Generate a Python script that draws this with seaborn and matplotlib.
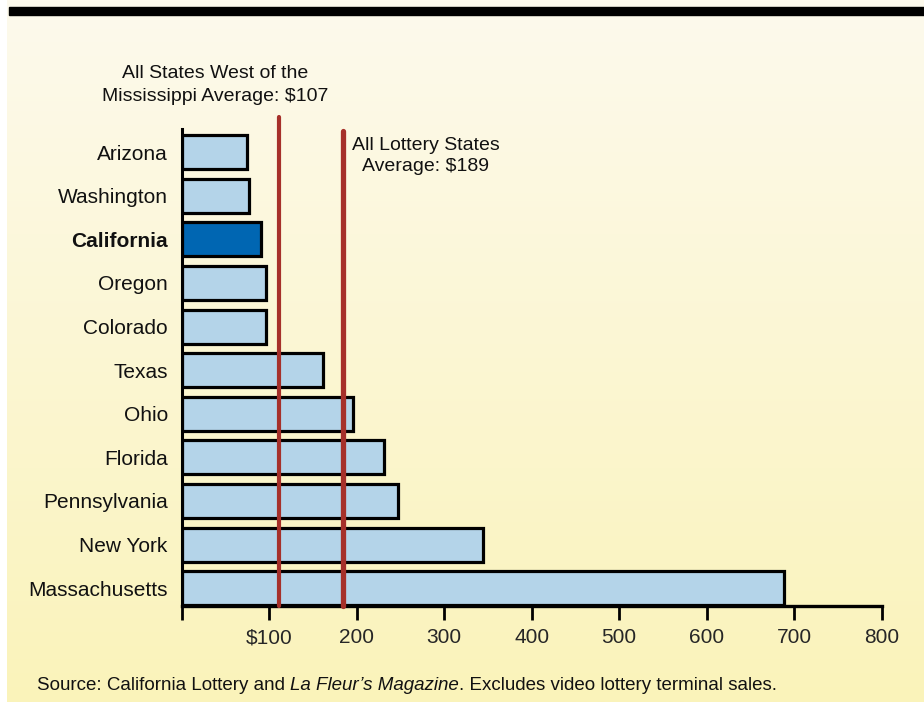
import numpy as np
import pandas as pd
import matplotlib
matplotlib.use('Agg')
import matplotlib.pyplot as plt
import seaborn as sns

# Per-capita lottery sales by state
states = ['Arizona', 'Washington', 'California', 'Oregon', 'Colorado', 'Texas',
          'Ohio', 'Florida', 'Pennsylvania', 'New York', 'Massachusetts']
sales = [75, 77, 91, 96, 96, 161, 196, 231, 247, 345, 689]

# Reference lines (as drawn) and their labelled averages
west_line, west_avg = 111, 107
all_line, all_avg = 184, 189

x_ticks = [0, 100, 200, 300, 400, 500, 600, 700, 800]
x_tick_labels = ['', '$100', '200', '300', '400', '500', '600', '700', '800']

df = pd.DataFrame({'State': states, 'Sales': sales})
df['Group'] = np.where(df['State'] == 'California', 'ca', 'other')

sns.set_theme(style='white')
plt.rcParams['font.family'] = ['Liberation Sans', 'DejaVu Sans']

W, H = 924, 702
fig = plt.figure(figsize=(W / 100, H / 100), dpi=100)
fig.patch.set_facecolor('white')

# Background panel with vertical cream-to-yellow gradient
bg = fig.add_axes([7 / W, 0, 1 - 7 / W, 1], zorder=-2)
top_c = np.array([253, 250, 237]) / 255
bot_c = np.array([250, 243, 186]) / 255
t = np.linspace(0, 1, 256)[:, None]
grad = (top_c * (1 - t) + bot_c * t)[:, None, :]
bg.imshow(grad, aspect='auto', extent=[0, 1, 0, 1])
bg.set_xlim(0, 1)
bg.set_ylim(0, 1)
bg.axis('off')

# Black rule at top
fig.patches.append(plt.Rectangle((9 / W, 1 - 15 / H), 1, 8 / H,
                                 transform=fig.transFigure, color='black', zorder=5))

ax = fig.add_axes([181.7 / W, 1 - 606 / H, (881.5 - 181.7) / W, (606 - 129) / H])
ax.set_facecolor('none')

sns.barplot(data=df, x='Sales', y='State', hue='Group', orient='h',
            palette={'ca': '#0066b2', 'other': '#b4d4e9'}, dodge=False,
            saturation=1, width=0.78, edgecolor='black', linewidth=2.3,
            legend=False, ax=ax, zorder=2)

ax.set_xlim(0, 800)
ax.set_ylim(10.41, -0.53)
ax.set_xlabel('')
ax.set_ylabel('')

# Average lines
ax.axvline(west_line, ymin=0, ymax=1.025, color='#a6302a', linewidth=3, zorder=3,
           clip_on=False)
ax.axvline(all_line, ymin=0, ymax=0.995, color='#a6302a', linewidth=3.8, zorder=3,
           clip_on=False)

fig.text(215 / W, 1 - 85 / H, f'All States West of the\nMississippi Average: ${west_avg}',
         ha='center', va='center', fontsize=14, linespacing=1.4, color='#111111')
fig.text(426 / W, 1 - 156 / H, f'All Lottery States\nAverage: ${all_avg}',
         ha='center', va='center', fontsize=14, linespacing=1.25, color='#111111')

ax.set_xticks(x_ticks)
ax.set_xticklabels(x_tick_labels, fontsize=15)
ax.tick_params(axis='x', direction='out', length=10, width=2, color='black',
               pad=6, bottom=True)
ax.tick_params(axis='y', length=0, pad=10, labelsize=15)
for lbl in ax.get_yticklabels():
    if lbl.get_text() == 'California':
        lbl.set_fontweight('bold')
    lbl.set_color('#111111')

for side in ['top', 'right']:
    ax.spines[side].set_visible(False)
ax.spines['left'].set_linewidth(2.2)
ax.spines['bottom'].set_linewidth(2.4)
ax.spines['left'].set_color('black')
ax.spines['bottom'].set_color('black')

# Source line, with the magazine name in italics
parts = [('Source: California Lottery and ', 'normal'),
         ('La Fleur’s Magazine', 'italic'),
         ('. Excludes video lottery terminal sales.', 'normal')]
fig.canvas.draw()
renderer = fig.canvas.get_renderer()
x0 = 37
for s, style in parts:
    tx = fig.text(x0 / W, 1 - 686 / H, s, fontsize=13.5, style=style,
                  ha='left', va='center', color='#111111')
    x0 += tx.get_window_extent(renderer).width

fig.savefig('out.png', dpi=100)
